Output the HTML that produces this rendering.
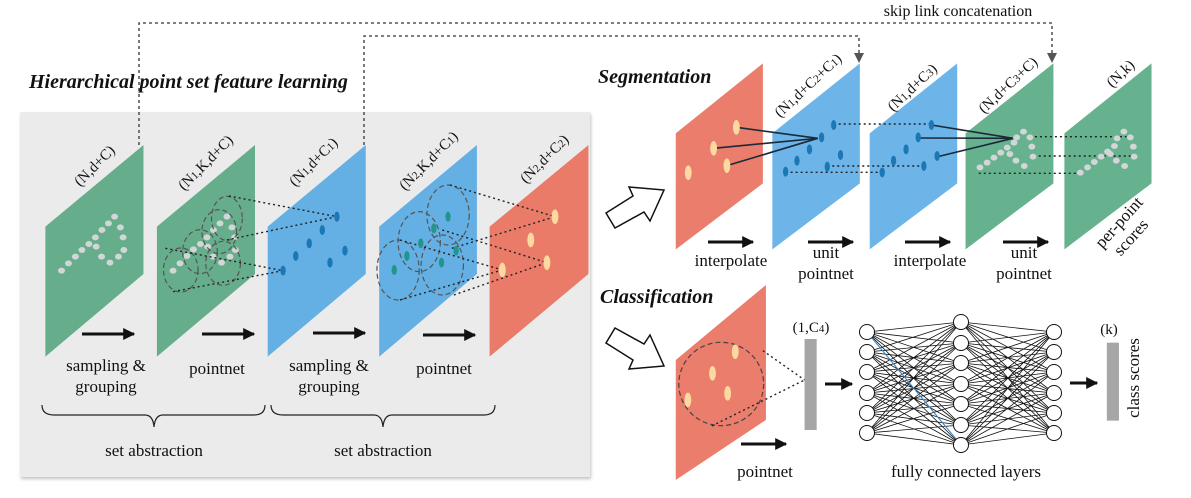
<!DOCTYPE html>
<html><head><meta charset="utf-8"><style>
html,body{margin:0;padding:0;background:#fff;}
svg{display:block;}
text{font-family:"Liberation Serif",serif;fill:#111;}
.t{font-size:17px;}
.lb{font-size:15px;}
.ttl{font-size:20px;font-weight:bold;font-style:italic;}
</style></head><body>
<svg width="1191" height="498" viewBox="0 0 1191 498" xmlns="http://www.w3.org/2000/svg">
<defs>
<marker id="ah" viewBox="0 0 10 10" refX="9" refY="5" markerWidth="4" markerHeight="4" orient="auto"><path d="M0,0L10,5L0,10z" fill="#111"/></marker>
<filter id="sh" x="-5%" y="-5%" width="110%" height="110%"><feDropShadow dx="1" dy="2" stdDeviation="1.5" flood-color="#999" flood-opacity="0.6"/></filter>
</defs>

<rect x="20" y="112" width="570" height="365" fill="#ebebeb" filter="url(#sh)"/>
<text class="ttl" x="29" y="88">Hierarchical point set feature learning</text>

<g fill="none" stroke="#333" stroke-width="1.3" stroke-dasharray="3,3">
<path d="M139,145 V23 H1052 V54"/>
<path d="M364,145 V36 H859 V54"/>
</g>
<path d="M1047,53 L1057,53 L1052,63z" fill="#555"/>
<path d="M854,53 L864,53 L859,63z" fill="#555"/>
<text x="958" y="16" text-anchor="middle" style="font-size:16px">skip link concatenation</text>

<g transform="translate(0,100) scale(0.3846,0.3333)">
<polygon points="118,380 373,135 373,522 118,770" fill="#65ad8b"/>
<polygon points="408,380 663,135 663,522 408,770" fill="#65ad8b"/>
<polygon points="696,380 951,135 951,522 696,770" fill="#64afe3"/>
<polygon points="986,380 1240,135 1240,522 986,770" fill="#64afe3"/>
<polygon points="1273,380 1530,135 1530,522 1273,770" fill="#e97b68"/>
<g fill="#d3d6d6">
<ellipse cx="160" cy="512" rx="9" ry="9"/><ellipse cx="178" cy="490" rx="9" ry="9"/><ellipse cx="196" cy="470" rx="9" ry="9"/><ellipse cx="213" cy="450" rx="9" ry="9"/><ellipse cx="231" cy="432" rx="9" ry="9"/><ellipse cx="248" cy="412" rx="9" ry="9"/><ellipse cx="265" cy="390" rx="9" ry="9"/><ellipse cx="282" cy="370" rx="9" ry="9"/><ellipse cx="298" cy="350" rx="9" ry="9"/><ellipse cx="313" cy="382" rx="9" ry="9"/><ellipse cx="320" cy="412" rx="9" ry="9"/><ellipse cx="322" cy="450" rx="9" ry="9"/><ellipse cx="308" cy="470" rx="9" ry="9"/><ellipse cx="286" cy="488" rx="9" ry="9"/><ellipse cx="264" cy="470" rx="9" ry="9"/><ellipse cx="250" cy="440" rx="9" ry="9"/>
<ellipse cx="450" cy="512" rx="9" ry="9"/><ellipse cx="468" cy="490" rx="9" ry="9"/><ellipse cx="486" cy="468" rx="9" ry="9"/><ellipse cx="503" cy="448" rx="9" ry="9"/><ellipse cx="521" cy="432" rx="9" ry="9"/><ellipse cx="538" cy="412" rx="9" ry="9"/><ellipse cx="555" cy="390" rx="9" ry="9"/><ellipse cx="572" cy="370" rx="9" ry="9"/><ellipse cx="590" cy="350" rx="9" ry="9"/><ellipse cx="603" cy="382" rx="9" ry="9"/><ellipse cx="610" cy="412" rx="9" ry="9"/><ellipse cx="612" cy="450" rx="9" ry="9"/><ellipse cx="598" cy="470" rx="9" ry="9"/><ellipse cx="576" cy="488" rx="9" ry="9"/><ellipse cx="554" cy="470" rx="9" ry="9"/><ellipse cx="540" cy="440" rx="9" ry="9"/>
</g>
<g fill="none" stroke="#555" stroke-width="1.2" stroke-dasharray="5,3">
<ellipse cx="470" cy="510" rx="45" ry="66" vector-effect="non-scaling-stroke"/>
<ellipse cx="520" cy="455" rx="45" ry="66" vector-effect="non-scaling-stroke"/>
<ellipse cx="580" cy="490" rx="45" ry="66" vector-effect="non-scaling-stroke"/>
<ellipse cx="570" cy="395" rx="45" ry="66" vector-effect="non-scaling-stroke"/>
<ellipse cx="590" cy="355" rx="40" ry="66" vector-effect="non-scaling-stroke"/>
<ellipse cx="1165" cy="345" rx="55" ry="90" vector-effect="non-scaling-stroke"/>
<ellipse cx="1090" cy="425" rx="55" ry="90" vector-effect="non-scaling-stroke"/>
<ellipse cx="1035" cy="510" rx="55" ry="90" vector-effect="non-scaling-stroke"/>
<ellipse cx="1150" cy="495" rx="55" ry="90" vector-effect="non-scaling-stroke"/>
</g>
<g stroke="#222" stroke-width="1.4" stroke-dasharray="2,3">
<line x1="595" y1="288" x2="876" y2="350" vector-effect="non-scaling-stroke"/>
<line x1="590" y1="420" x2="876" y2="350" vector-effect="non-scaling-stroke"/>
<line x1="430" y1="445" x2="736" y2="512" vector-effect="non-scaling-stroke"/>
<line x1="450" y1="575" x2="736" y2="512" vector-effect="non-scaling-stroke"/>
<line x1="1170" y1="255" x2="1443" y2="350" vector-effect="non-scaling-stroke"/>
<line x1="1175" y1="445" x2="1443" y2="350" vector-effect="non-scaling-stroke"/>
<line x1="1040" y1="420" x2="1306" y2="510" vector-effect="non-scaling-stroke"/>
<line x1="1040" y1="600" x2="1306" y2="510" vector-effect="non-scaling-stroke"/>
<line x1="1150" y1="390" x2="1422" y2="488" vector-effect="non-scaling-stroke"/>
<line x1="1180" y1="585" x2="1422" y2="488" vector-effect="non-scaling-stroke"/>
</g>
<g fill="#1c78b5">
<ellipse cx="876" cy="350" rx="7" ry="15"/><ellipse cx="838" cy="390" rx="7" ry="15"/><ellipse cx="804" cy="430" rx="7" ry="15"/><ellipse cx="769" cy="468" rx="7" ry="15"/><ellipse cx="736" cy="512" rx="7" ry="15"/><ellipse cx="858" cy="488" rx="7" ry="15"/><ellipse cx="897" cy="452" rx="7" ry="15"/>
</g>
<g fill="#23958e">
<ellipse cx="1165" cy="350" rx="7" ry="15"/><ellipse cx="1128" cy="385" rx="7" ry="15"/><ellipse cx="1094" cy="430" rx="7" ry="15"/><ellipse cx="1058" cy="468" rx="7" ry="15"/><ellipse cx="1025" cy="510" rx="7" ry="15"/><ellipse cx="1148" cy="488" rx="7" ry="15"/><ellipse cx="1186" cy="452" rx="7" ry="15"/>
</g>
<g fill="#fcd9a0">
<ellipse cx="1443" cy="350" rx="9" ry="22"/><ellipse cx="1380" cy="420" rx="9" ry="22"/><ellipse cx="1422" cy="488" rx="9" ry="22"/><ellipse cx="1306" cy="510" rx="9" ry="22"/>
</g>
</g>

<g stroke="#111" stroke-width="3" marker-end="url(#ah)">
<line x1="82" y1="334" x2="134" y2="334"/>
<line x1="202" y1="334" x2="254" y2="334"/>
<line x1="313" y1="333" x2="365" y2="333"/>
<line x1="423" y1="335" x2="475" y2="335"/>
</g>
<g class="lb">
<text transform="translate(80,187) rotate(-45)">(N,d+C)</text>
<text transform="translate(184,191) rotate(-45)">(N<tspan font-size="11">1</tspan>,K,d+C)</text>
<text transform="translate(295,187) rotate(-45)">(N<tspan font-size="11">1</tspan>,d+C<tspan font-size="11">1</tspan>)</text>
<text transform="translate(405,191) rotate(-45)">(N<tspan font-size="11">2</tspan>,K,d+C<tspan font-size="11">1</tspan>)</text>
<text transform="translate(526,184) rotate(-45)">(N<tspan font-size="11">2</tspan>,d+C<tspan font-size="11">2</tspan>)</text>
</g>
<g class="t" text-anchor="middle">
<text x="106" y="371">sampling &amp;</text><text x="106" y="392">grouping</text>
<text x="217" y="374">pointnet</text>
<text x="329" y="371">sampling &amp;</text><text x="329" y="392">grouping</text>
<text x="444" y="374">pointnet</text>
<text x="154" y="456">set abstraction</text>
<text x="383" y="456">set abstraction</text>
</g>
<g fill="none" stroke="#222" stroke-width="1.2">
<path d="M42,405 Q42,415 54,415 L145,415 Q153,415 154,427 Q155,415 163,415 L254,415 Q265,415 265,405"/>
<path d="M271,405 Q271,415 283,415 L374,415 Q382,415 383,427 Q384,415 392,415 L484,415 Q495,415 495,405"/>
</g>

<polygon points="606,213 633,196 629,187 664,190 650,221 644,212 615,228" fill="#fff" stroke="#111" stroke-width="1.5"/>
<polygon points="606,343 633,360 629,369 664,366 650,335 644,344 615,328" fill="#fff" stroke="#111" stroke-width="1.5"/>

<text class="ttl" x="598" y="83">Segmentation</text>
<g transform="translate(600,50) scale(0.3788,0.3333)">
<polygon points="200,250 430,40 430,400 200,598" fill="#ea7d6b"/>
<polygon points="455,250 686,40 686,400 455,598" fill="#6db5e8"/>
<polygon points="712,250 943,40 943,400 712,598" fill="#6db5e8"/>
<polygon points="965,250 1197,40 1197,400 965,598" fill="#67b28e"/>
<polygon points="1226,250 1456,40 1456,400 1226,598" fill="#67b28e"/>
<g stroke="#222" stroke-width="1.4" stroke-dasharray="2,3">
<line x1="617" y1="222" x2="875" y2="222" vector-effect="non-scaling-stroke"/>
<line x1="490" y1="367" x2="745" y2="367" vector-effect="non-scaling-stroke"/>
<line x1="600" y1="348" x2="855" y2="348" vector-effect="non-scaling-stroke"/>
<line x1="1135" y1="260" x2="1390" y2="260" vector-effect="non-scaling-stroke"/>
<line x1="1145" y1="318" x2="1410" y2="318" vector-effect="non-scaling-stroke"/>
<line x1="1000" y1="370" x2="1262" y2="370" vector-effect="non-scaling-stroke"/>
</g>
<g stroke="#1a2a3a" stroke-width="1.6">
<line x1="360" y1="232" x2="575" y2="265" vector-effect="non-scaling-stroke"/>
<line x1="300" y1="295" x2="575" y2="265" vector-effect="non-scaling-stroke"/>
<line x1="335" y1="347" x2="575" y2="265" vector-effect="non-scaling-stroke"/>
<line x1="875" y1="225" x2="1090" y2="265" vector-effect="non-scaling-stroke"/>
<line x1="840" y1="264" x2="1090" y2="265" vector-effect="non-scaling-stroke"/>
<line x1="892" y1="320" x2="1090" y2="265" vector-effect="non-scaling-stroke"/>
</g>
<g fill="#fcd9a0">
<ellipse cx="360" cy="232" rx="9" ry="22"/><ellipse cx="300" cy="295" rx="9" ry="22"/><ellipse cx="335" cy="347" rx="9" ry="22"/><ellipse cx="233" cy="368" rx="9" ry="22"/>
</g>
<g fill="#1c78b5">
<ellipse cx="585" cy="262" rx="7" ry="15"/><ellipse cx="553" cy="298" rx="7" ry="15"/><ellipse cx="520" cy="332" rx="7" ry="15"/><ellipse cx="490" cy="365" rx="7" ry="15"/><ellipse cx="600" cy="350" rx="7" ry="15"/><ellipse cx="635" cy="315" rx="7" ry="15"/><ellipse cx="617" cy="225" rx="7" ry="15"/>
<ellipse cx="875" cy="225" rx="7" ry="15"/><ellipse cx="840" cy="262" rx="7" ry="15"/><ellipse cx="808" cy="298" rx="7" ry="15"/><ellipse cx="775" cy="332" rx="7" ry="15"/><ellipse cx="745" cy="367" rx="7" ry="15"/><ellipse cx="855" cy="348" rx="7" ry="15"/><ellipse cx="890" cy="318" rx="7" ry="15"/>
</g>
<g fill="#d3d6d6">
<ellipse cx="1003" cy="352" rx="9" ry="9"/><ellipse cx="1022" cy="338" rx="9" ry="9"/><ellipse cx="1040" cy="323" rx="9" ry="9"/><ellipse cx="1058" cy="308" rx="9" ry="9"/><ellipse cx="1075" cy="293" rx="9" ry="9"/><ellipse cx="1093" cy="278" rx="9" ry="9"/><ellipse cx="1100" cy="262" rx="9" ry="9"/><ellipse cx="1118" cy="245" rx="9" ry="9"/><ellipse cx="1135" cy="262" rx="9" ry="9"/><ellipse cx="1140" cy="290" rx="9" ry="9"/><ellipse cx="1143" cy="320" rx="9" ry="9"/><ellipse cx="1120" cy="348" rx="9" ry="9"/><ellipse cx="1098" cy="332" rx="9" ry="9"/><ellipse cx="1082" cy="312" rx="9" ry="9"/>
<ellipse cx="1268" cy="368" rx="9" ry="9"/><ellipse cx="1287" cy="352" rx="9" ry="9"/><ellipse cx="1305" cy="336" rx="9" ry="9"/><ellipse cx="1323" cy="320" rx="9" ry="9"/><ellipse cx="1340" cy="305" rx="9" ry="9"/><ellipse cx="1358" cy="288" rx="9" ry="9"/><ellipse cx="1365" cy="265" rx="9" ry="9"/><ellipse cx="1383" cy="245" rx="9" ry="9"/><ellipse cx="1400" cy="262" rx="9" ry="9"/><ellipse cx="1408" cy="290" rx="9" ry="9"/><ellipse cx="1410" cy="320" rx="9" ry="9"/><ellipse cx="1385" cy="348" rx="9" ry="9"/><ellipse cx="1363" cy="332" rx="9" ry="9"/><ellipse cx="1347" cy="312" rx="9" ry="9"/>
</g>
</g>
<g stroke="#111" stroke-width="3" marker-end="url(#ah)">
<line x1="708" y1="242" x2="753" y2="242"/>
<line x1="808" y1="242" x2="853" y2="242"/>
<line x1="905" y1="242" x2="950" y2="242"/>
<line x1="1003" y1="242" x2="1048" y2="242"/>
</g>
<g class="lb">
<text transform="translate(780,118) rotate(-43)">(N<tspan font-size="11">1</tspan>,d+C<tspan font-size="11">2</tspan>+C<tspan font-size="11">1</tspan>)</text>
<text transform="translate(893,112) rotate(-43)">(N<tspan font-size="11">1</tspan>,d+C<tspan font-size="11">3</tspan>)</text>
<text transform="translate(984,114) rotate(-43)">(N,d+C<tspan font-size="11">3</tspan>+C)</text>
<text transform="translate(1112,88) rotate(-43)">(N,k)</text>
</g>
<g class="t" text-anchor="middle">
<text x="731" y="266">interpolate</text>
<text x="826" y="258">unit</text><text x="826" y="279">pointnet</text>
<text x="930" y="266">interpolate</text>
<text x="1024" y="258">unit</text><text x="1024" y="279">pointnet</text>
<text transform="translate(1123,226) rotate(-48)">per-point</text>
<text transform="translate(1135,241) rotate(-48)">scores</text>
</g>

<text class="ttl" x="600" y="303">Classification</text>
<g transform="translate(600,280) scale(0.3788,0.3333)">
<polygon points="200,240 438,15 438,420 200,600" fill="#ea7d6b"/>
<ellipse cx="320" cy="312" rx="112" ry="125" fill="none" stroke="#444" stroke-width="1.2" stroke-dasharray="5,3" vector-effect="non-scaling-stroke"/>
<g stroke="#222" stroke-width="1.4" stroke-dasharray="2,3">
<line x1="430" y1="212" x2="540" y2="300" vector-effect="non-scaling-stroke"/>
<line x1="295" y1="438" x2="540" y2="300" vector-effect="non-scaling-stroke"/>
</g>
<g fill="#fcd9a0">
<ellipse cx="357" cy="215" rx="9" ry="22"/><ellipse cx="297" cy="280" rx="9" ry="22"/><ellipse cx="337" cy="340" rx="9" ry="22"/><ellipse cx="232" cy="360" rx="9" ry="22"/>
</g>
<rect x="540" y="177" width="32" height="273" fill="#a6a6a6"/>
<rect x="1338" y="188" width="32" height="234" fill="#a6a6a6"/>
</g>
<g stroke="#111" stroke-width="0.8">
<path d="M867,332L961,322M867,332L961,343M867,332L961,363M867,332L961,384M867,332L961,404M867,332L961,425M867,332L961,445M867,352L961,322M867,352L961,343M867,352L961,363M867,352L961,384M867,352L961,404M867,352L961,425M867,352L961,445M867,372L961,322M867,372L961,343M867,372L961,363M867,372L961,384M867,372L961,404M867,372L961,425M867,372L961,445M867,393L961,322M867,393L961,343M867,393L961,363M867,393L961,384M867,393L961,404M867,393L961,425M867,393L961,445M867,413L961,322M867,413L961,343M867,413L961,363M867,413L961,384M867,413L961,404M867,413L961,425M867,413L961,445M867,433L961,322M867,433L961,343M867,433L961,363M867,433L961,384M867,433L961,404M867,433L961,425M867,433L961,445"/>
<path d="M1054,332L961,322M1054,332L961,343M1054,332L961,363M1054,332L961,384M1054,332L961,404M1054,332L961,425M1054,332L961,445M1054,352L961,322M1054,352L961,343M1054,352L961,363M1054,352L961,384M1054,352L961,404M1054,352L961,425M1054,352L961,445M1054,372L961,322M1054,372L961,343M1054,372L961,363M1054,372L961,384M1054,372L961,404M1054,372L961,425M1054,372L961,445M1054,393L961,322M1054,393L961,343M1054,393L961,363M1054,393L961,384M1054,393L961,404M1054,393L961,425M1054,393L961,445M1054,413L961,322M1054,413L961,343M1054,413L961,363M1054,413L961,384M1054,413L961,404M1054,413L961,425M1054,413L961,445M1054,433L961,322M1054,433L961,343M1054,433L961,363M1054,433L961,384M1054,433L961,404M1054,433L961,425M1054,433L961,445"/>
</g>
<line x1="867" y1="332" x2="961" y2="445" stroke="#3a8fd8" stroke-width="1"/>
<g fill="#fff" stroke="#111" stroke-width="1">
<circle cx="867" cy="332" r="7.5"/><circle cx="867" cy="352" r="7.5"/><circle cx="867" cy="372" r="7.5"/><circle cx="867" cy="393" r="7.5"/><circle cx="867" cy="413" r="7.5"/><circle cx="867" cy="433" r="7.5"/>
<circle cx="961" cy="322" r="7.5"/><circle cx="961" cy="343" r="7.5"/><circle cx="961" cy="363" r="7.5"/><circle cx="961" cy="384" r="7.5"/><circle cx="961" cy="404" r="7.5"/><circle cx="961" cy="425" r="7.5"/><circle cx="961" cy="445" r="7.5"/>
<circle cx="1054" cy="332" r="7.5"/><circle cx="1054" cy="352" r="7.5"/><circle cx="1054" cy="372" r="7.5"/><circle cx="1054" cy="393" r="7.5"/><circle cx="1054" cy="413" r="7.5"/><circle cx="1054" cy="433" r="7.5"/>
</g>
<g stroke="#111" stroke-width="3" marker-end="url(#ah)">
<line x1="741" y1="444" x2="786" y2="444"/>
<line x1="825" y1="384" x2="852" y2="384"/>
<line x1="1070" y1="383" x2="1097" y2="383"/>
</g>
<g class="t" text-anchor="middle">
<text x="811" y="332" style="font-size:15px">(1,C<tspan font-size="11">4</tspan>)</text>
<text x="1109" y="334" style="font-size:15px">(k)</text>
<text transform="translate(1139,378) rotate(-90)">class scores</text>
<text x="765" y="477">pointnet</text>
<text x="966" y="477">fully connected layers</text>
</g>
</svg>
</body></html>
